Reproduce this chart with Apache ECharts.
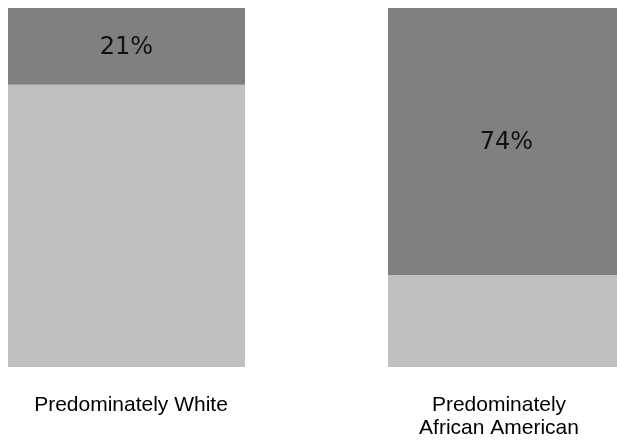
<!DOCTYPE html>
<html>
<head>
<meta charset="utf-8">
<script src="https://cdn.jsdelivr.net/npm/echarts@6/dist/echarts.min.js"></script>
<style>html,body{margin:0;padding:0;background:#fff;}#c{width:617px;height:440px;}</style>
</head>
<body>
<div id="c"></div>
<script>
const categories = ['Predominately White', 'Predominately\nAfrican American'];
const otherValues = [78.6, 25.6];
const shareValues = [21.4, 74.4];

const chart = echarts.init(document.getElementById('c'), null, {renderer: 'canvas'});
chart.setOption({
  animation: false,
  grid: [
    {left: -63.5, width: 760, top: 8, height: 359, containLabel: false, outerBoundsMode: 'none'},
    {left: -53, width: 736, top: 8, height: 359, containLabel: false, outerBoundsMode: 'none'}
  ],
  xAxis: [
    {type: 'category', gridIndex: 0, data: categories,
     axisLine: {show: false}, axisTick: {show: false}, axisLabel: {show: false}},
    {type: 'category', gridIndex: 1, data: categories,
     axisLine: {show: false}, axisTick: {show: false},
     axisLabel: {fontFamily: 'Liberation Sans, Arial', fontSize: 21, color: '#000', margin: 27, lineHeight: 23, verticalAlign: 'top', interval: 0, hideOverlap: false}}
  ],
  yAxis: [
    {type: 'value', gridIndex: 0, min: 0, max: 100, show: false, splitLine: {show: false}},
    {type: 'value', gridIndex: 1, min: 0, max: 100, show: false, splitLine: {show: false}}
  ],
  series: [
    {type: 'bar', stack: 's', data: otherValues, barWidth: 237, itemStyle: {color: '#c0c0c0'}},
    {type: 'bar', stack: 's', data: shareValues, barWidth: 237, itemStyle: {color: '#808080'},
     label: {show: true, position: 'inside', offset: [0, 1], formatter: p => Math.round(p.value) + '%', fontFamily: 'DejaVu Sans', fontSize: 24, color: '#111'}}
  ]
});
</script>
</body>
</html>
